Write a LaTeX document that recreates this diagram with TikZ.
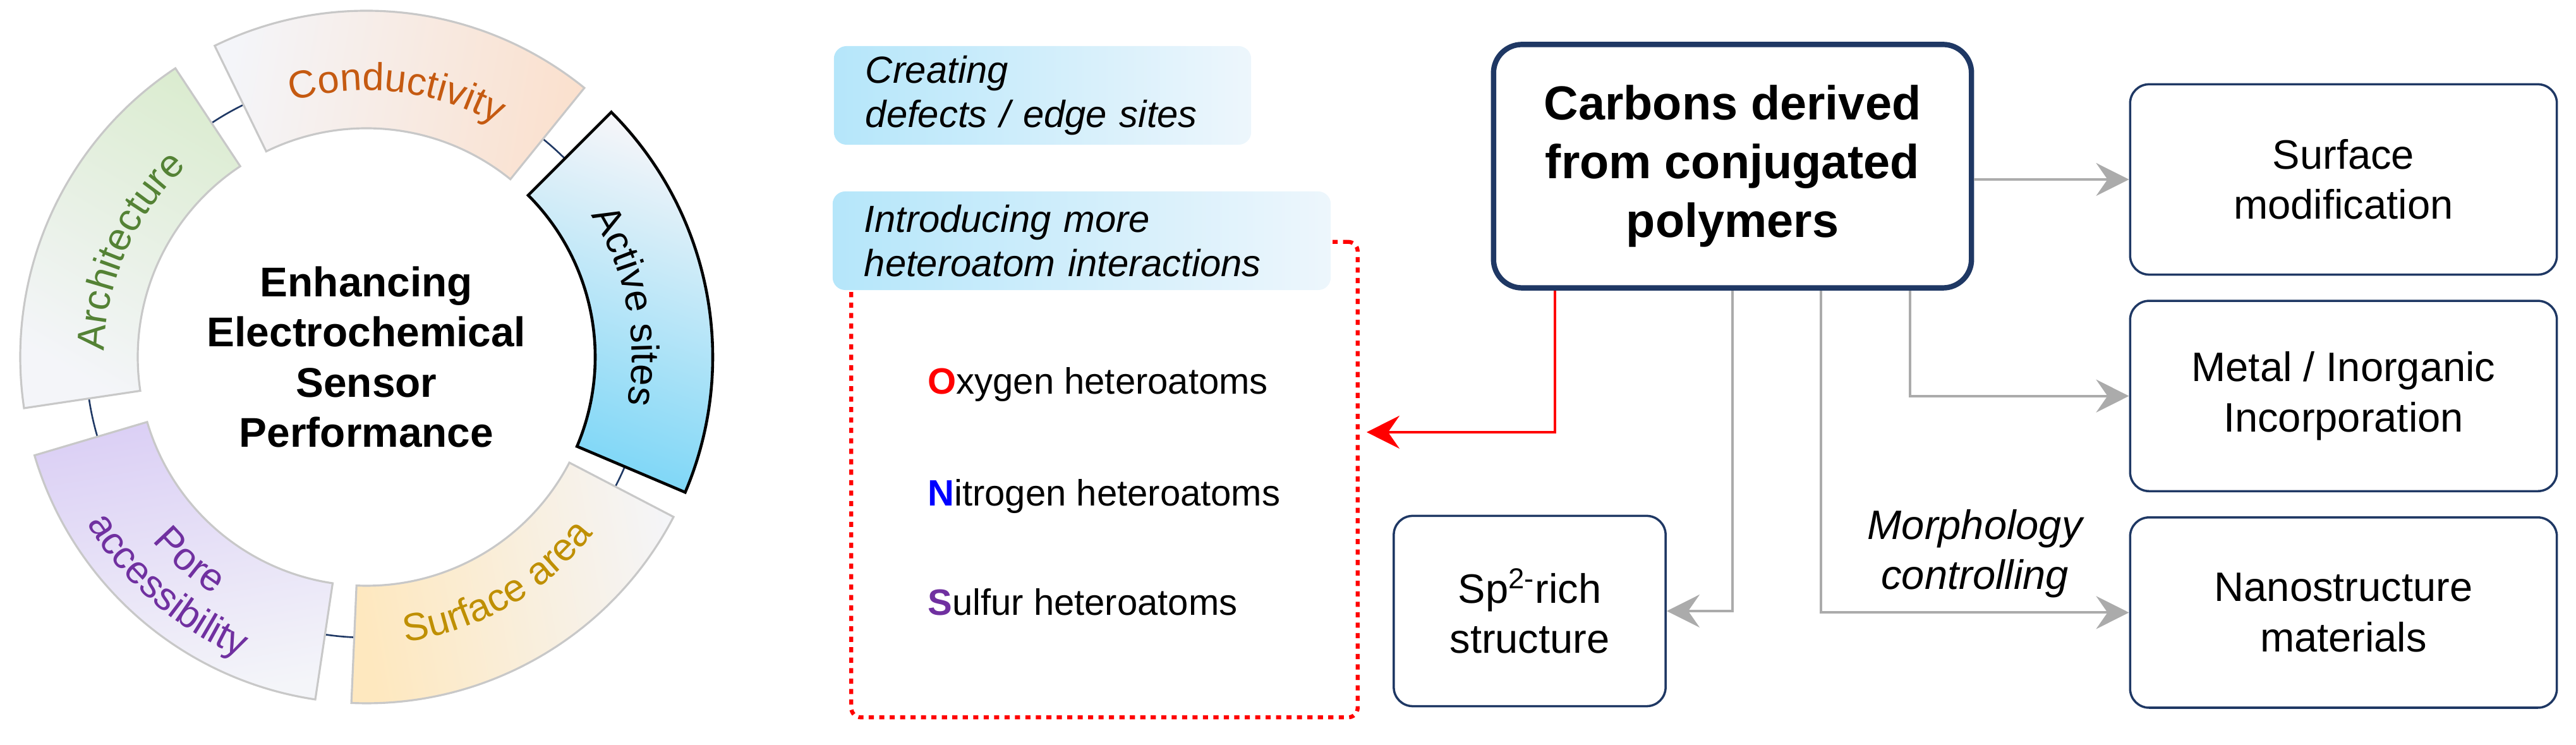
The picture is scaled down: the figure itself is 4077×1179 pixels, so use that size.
\documentclass[tikz,border=0pt]{standalone}
\usepackage{fontspec}
\setmainfont{Liberation Sans}
\usepackage{tikz}
\usetikzlibrary{math}
\usetikzlibrary{arrows.meta}
\usetikzlibrary{decorations.text}
\usetikzlibrary{positioning}
\definecolor{navy}{HTML}{1F3864}
\definecolor{seggray}{HTML}{C8C8C8}
\definecolor{segbase}{HTML}{F4F5F9}
\definecolor{condtint}{HTML}{FBDFCB}
\definecolor{archtint}{HTML}{D8EBCB}
\definecolor{acttint}{HTML}{6CD2F6}
\definecolor{surftint}{HTML}{FEE8BF}
\definecolor{poretint}{HTML}{D6C8F4}
\definecolor{condtext}{HTML}{C55A11}
\definecolor{archtext}{HTML}{548235}
\definecolor{surftext}{HTML}{BF8F00}
\definecolor{poretext}{HTML}{7030A0}
\definecolor{tagleft}{HTML}{B5E6FA}
\definecolor{tagright}{HTML}{EDF6FC}
\definecolor{arrowgray}{HTML}{ABABAB}
\def\fs#1#2{\fontsize{#1}{#2}\selectfont}

\begin{document}
\begin{tikzpicture}[x=0.01cm, y=0.01cm,
    arclabel/.style={decorate, decoration={text along path, text align=center, text={#1}}},
    flowbox/.style={draw=navy, line width=1pt, rounded corners=0.3cm, align=center,
      font=\fs{18.5}{22.5}, minimum width=6.75cm, minimum height=3.01cm},
    mainbox/.style={draw=navy, line width=2.4pt, rounded corners=0.45cm, align=center,
      font=\fs{21.5}{26.5}\bfseries, minimum width=7.56cm, minimum height=3.85cm},
    tagbox/.style={left color=tagleft, right color=tagright, rounded corners=0.2cm,
      align=left, inner xsep=0.5cm, font=\fs{17}{20}\itshape, minimum height=1.56cm},
    hetbox/.style={draw=red, line width=1.8pt, dash pattern=on 2.3pt off 2.4pt, rounded corners=0.15cm},
    element/.style={anchor=west, font=\fs{16.5}{20}},
    greyline/.style={draw=arrowgray, line width=1.1pt, -{Stealth[length=0.52cm, width=0.52cm, inset=0.18cm]}},
    redline/.style={draw=red, line width=1.1pt, -{Stealth[length=0.52cm, width=0.52cm, inset=0.18cm]}}]
  \useasboundingbox (0, 0) rectangle (4077, 1179);
  \tikzmath{
    \rin = 362;
    \rout = 548;
    \rw = \rout - \rin;
  }
  \coordinate (C) at (580, 614);

  % ring behind the segments
  \draw [navy, line width=0.75pt] (C) circle (444);

  \foreach \ang/\tint/\sa in {83.5/condtint/-100, -60/surftint/100, -131/poretint/10, 156/archtint/-30} {
    \tikzmath{
      \angA = \ang - 32.5;
      \angB = \ang + 32.5;
    }
    \draw [seggray, line width=0.9pt, top color=\tint, bottom color=segbase, shading angle=\sa]
    (C) ++(\angA:\rin) arc[start angle=\angA, end angle=\angB, radius=\rin]
    -- ++(\angB:\rw) arc[start angle=\angB, end angle=\angA, radius=\rout] -- cycle;
  }

  % labels follow the arcs
  \path [arclabel={|\fs{17.5}{20}\color{condtext}|Conductivity}]
  (C) ++(116:422) arc[start angle=116, end angle=51, radius=422];
  \path [arclabel={|\fs{17.5}{20}\color{archtext}|Architecture}]
  (C) ++(188.5:415) arc[start angle=188.5, end angle=123.5, radius=415];
  \path [arclabel={|\fs{17.5}{20}\color{surftext}|Surface area}]
  (C) ++(-92:455) arc[start angle=-92, end angle=-28, radius=455];
  \path [arclabel={|\fs{17.5}{20}\color{poretext}|Pore}]
  (C) ++(-163.5:447) arc[start angle=-163.5, end angle=-98.5, radius=447];
  \path [arclabel={|\fs{17.5}{20}\color{poretext}|accessibility}]
  (C) ++(-163.5:515) arc[start angle=-163.5, end angle=-98.5, radius=515];

  % active sites, pulled out of the ring
  \begin{scope}[shift={(15, -9)}]
    \draw [black, line width=1.3pt, top color=acttint, bottom color=segbase, shading angle=160]
    (C) ++(-23:\rin) arc[start angle=-23, end angle=45, radius=\rin]
    -- ++(45:\rw) arc[start angle=45, end angle=-23, radius=\rout] -- cycle;
    \path [arclabel={|\fs{17.5}{20}|Active sites}]
    (C) ++(45:420) arc[start angle=45, end angle=-23, radius=420];
  \end{scope}

  \node [align=center, font=\fs{18.7}{22.5}\bfseries] (goal) at (C) {Enhancing\\Electrochemical\\Sensor\\Performance};

  % heteroatoms
  \node [hetbox, minimum width=8.01cm, minimum height=7.52cm] (hetero) at (1748, 420) {};
  \node [tagbox, text width=5.6cm] (defect) at (1650, 1028) {Creating\\defects / edge sites};
  \node [tagbox, text width=6.88cm] (intro) at (1712, 798) {Introducing more\\heteroatom interactions};
  \node [element] (oxy) at (1456, 570) {\textcolor{red}{\bfseries O}xygen heteroatoms};
  \node [element] (nitro) at (1456, 393) {\textcolor{blue}{\bfseries N}itrogen heteroatoms};
  \node [element] (sulf) at (1456, 226) {\textcolor{poretext}{\bfseries S}ulfur heteroatoms};

  % flowchart
  \node [mainbox] (carbon) at (2742, 916) {Carbons derived\\from conjugated\\polymers};
  \node [flowbox] (surf) at (3709, 895) {Surface\\modification};
  \node [flowbox, below=0.38cm of surf] (metal) {Metal / Inorganic\\Incorporation};
  \node [flowbox, below=0.38cm of metal] (nano) {Nanostructure\\materials};
  \node [flowbox, minimum width=4.3cm] (sp2) at (2421, 212) {Sp\textsuperscript{2-}rich\\structure};

  \draw [redline] ([xshift=1.01cm]carbon.south west) |- ([yshift=0.75cm, xshift=0.11cm]hetero.east);
  \draw [greyline] (carbon.east |- surf.west) -- (surf.west);
  \draw [greyline] ([xshift=6.63cm]carbon.south west) |- (metal.west);
  \draw [greyline] ([xshift=5.22cm]carbon.south west) |- node[pos=0.75, above=0.1cm, align=center, font=\fs{18.5}{22.5}\itshape] (morph) {Morphology\\controlling} (nano.west);
  \draw [greyline] (carbon.south) |- (sp2.east);
\end{tikzpicture}
\end{document}
